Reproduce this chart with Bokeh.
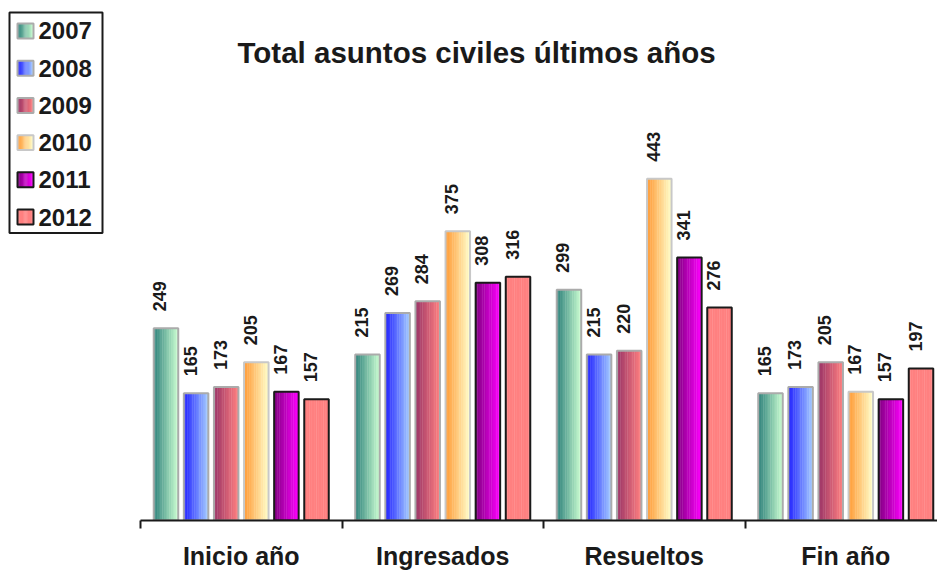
import math
from bokeh.plotting import figure
from bokeh.models import ColumnDataSource, Range1d, FixedTicker, Label
from bokeh.core.properties import value
from bokeh.embed import file_html
from bokeh.resources import INLINE

# ---------------- data ----------------
categories = ["Inicio año", "Ingresados", "Resueltos", "Fin año"]
years = ["2007", "2008", "2009", "2010", "2011", "2012"]
v2007 = [249, 215, 299, 165]
v2008 = [165, 269, 215, 173]
v2009 = [173, 284, 220, 205]
v2010 = [205, 375, 443, 167]
v2011 = [167, 308, 341, 157]
v2012 = [157, 316, 276, 197]
series = [v2007, v2008, v2009, v2010, v2011, v2012]
title_text = "Total asuntos civiles últimos años"

# ---------------- style ----------------
grad_left = ["#2b7f79", "#1f1fff", "#993366", "#ff9933", "#800080", "#ff8080"]
grad_right = ["#ccffd2", "#a6ceff", "#ff8080", "#ffffcc", "#ff00ff", "#ff8080"]
outline = ["#ababab", "#ababab", "#ababab", "#c8c8c8", "#1a1a1a", "#1a1a1a"]
N_STRIPS = 14
BAR_STEP = 0.1494
BAR_W = 0.1216
W, H = 937, 572
BOTTOM = 51          # height of the axis panel
GROUP_PX = 201.5     # width of one category in pixels
AXIS_LEFT = 140      # canvas x where the axis starts
Y_PX = 0.7731        # pixels per unit on the value axis
FRAME_H = H - BOTTOM


def hex2rgb(h):
    h = h.lstrip("#")
    return tuple(int(h[i:i + 2], 16) for i in (0, 2, 4))


def lerp(c1, c2, t):
    a, b = hex2rgb(c1), hex2rgb(c2)
    return "#%02x%02x%02x" % tuple(int(round(a[k] + (b[k] - a[k]) * t)) for k in range(3))


x0 = -0.5 - AXIS_LEFT / GROUP_PX
x1 = -0.5 + (W - AXIS_LEFT) / GROUP_PX
p = figure(width=W, height=H,
           x_range=Range1d(x0, x1), y_range=Range1d(0, FRAME_H / Y_PX),
           y_axis_type=None, output_backend="svg", toolbar_location=None,
           min_border_left=0, min_border_right=0, min_border_top=0, min_border_bottom=BOTTOM)
p.extra_x_ranges = {"px": Range1d(0, W)}
p.extra_y_ranges = {"px": Range1d(FRAME_H, 0)}
p.grid.visible = False
p.outline_line_color = None
p.background_fill_color = "white"
p.border_fill_color = "white"

# ---------------- bars (gradient strips + outline) ----------------
strip = dict(left=[], right=[], top=[], bottom=[], color=[])
bars = dict(left=[], right=[], top=[], line=[])
labels = dict(x=[], y=[], text=[])
for i, vals in enumerate(series):
    off = (i - 2.5) * BAR_STEP
    for g, v in enumerate(vals):
        cx = g + off
        l = cx - BAR_W / 2
        sw = BAR_W / N_STRIPS
        for k in range(N_STRIPS):
            t = (k + 0.5) / N_STRIPS
            strip["left"].append(l + k * sw - sw * 0.1)
            strip["right"].append(l + (k + 1) * sw + sw * 0.1)
            strip["top"].append(v)
            strip["bottom"].append(0)
            strip["color"].append(lerp(grad_left[i], grad_right[i], t))
        bars["left"].append(l)
        bars["right"].append(l + BAR_W)
        bars["top"].append(v)
        bars["line"].append(outline[i])
        labels["x"].append(cx)
        labels["y"].append(v)
        labels["text"].append(str(v))

p.quad(left="left", right="right", top="top", bottom="bottom", fill_color="color",
       line_color=None, source=ColumnDataSource(strip))
p.quad(left="left", right="right", top="top", bottom=0, fill_color=None,
       line_color="line", line_width=2, source=ColumnDataSource(bars))
p.text(x="x", y="y", text="text", angle=math.pi / 2, text_align="left", text_baseline="middle",
       x_offset=-6, y_offset=-17, text_font=value("Liberation Sans"), text_font_style="bold",
       text_font_size="18px", text_color="#1a1a1a", source=ColumnDataSource(labels))

# ---------------- x axis ----------------
xa = p.xaxis[0]
xa.bounds = (-0.5, x1)
xa.ticker = FixedTicker(ticks=list(range(len(categories))),
                        minor_ticks=[g - 0.5 for g in range(len(categories) + 1)])
xa.major_label_overrides = {i: c for i, c in enumerate(categories)}
xa.major_tick_line_color = None
xa.major_tick_in = 0
xa.major_tick_out = 0
xa.minor_tick_in = 0
xa.minor_tick_out = 8
xa.minor_tick_line_color = "#1a1a1a"
xa.minor_tick_line_width = 2
xa.axis_line_color = "#1a1a1a"
xa.axis_line_width = 2
xa.major_label_standoff = 13
xa.major_label_text_font = "Liberation Sans"
xa.major_label_text_font_style = "bold"
xa.major_label_text_font_size = "25px"
xa.major_label_text_color = "#1a1a1a"

# ---------------- title ----------------
p.add_layout(Label(x=237, y=52, x_range_name="px", y_range_name="px", text=title_text,
                   text_align="left", text_baseline="alphabetic", text_font="Liberation Sans",
                   text_font_style="bold", text_font_size="29.5px", text_color="#1a1a1a"))

# ---------------- legend (pixel coordinates on the "px" ranges) ----------------
ROW0, ROW_STEP = 30.5, 37.3
SW_L, SW_R, SW_HALF = 17, 33, 7.5
lstrip = dict(left=[], right=[], top=[], bottom=[], color=[])
lbox = dict(left=[], right=[], top=[], bottom=[], line=[])
ltext = dict(x=[], y=[], text=[])
for i, yr in enumerate(years):
    cy = ROW0 + ROW_STEP * i
    sw = (SW_R - SW_L) / N_STRIPS
    for k in range(N_STRIPS):
        t = (k + 0.5) / N_STRIPS
        lstrip["left"].append(SW_L + k * sw - sw * 0.1)
        lstrip["right"].append(SW_L + (k + 1) * sw + sw * 0.1)
        lstrip["top"].append(cy - SW_HALF)
        lstrip["bottom"].append(cy + SW_HALF)
        lstrip["color"].append(lerp(grad_left[i], grad_right[i], t))
    lbox["left"].append(SW_L)
    lbox["right"].append(SW_R)
    lbox["top"].append(cy - SW_HALF)
    lbox["bottom"].append(cy + SW_HALF)
    lbox["line"].append(outline[i])
    ltext["x"].append(38)
    ltext["y"].append(cy)
    ltext["text"].append(yr)

p.quad(left=9, right=102, top=12, bottom=233, fill_color="white", line_color="#1a1a1a",
       line_width=2, x_range_name="px", y_range_name="px")
p.quad(left="left", right="right", top="top", bottom="bottom", fill_color="color",
       line_color=None, source=ColumnDataSource(lstrip), x_range_name="px", y_range_name="px")
p.quad(left="left", right="right", top="top", bottom="bottom", fill_color=None,
       line_color="line", line_width=2, source=ColumnDataSource(lbox),
       x_range_name="px", y_range_name="px")
p.text(x="x", y="y", text="text", text_align="left", text_baseline="middle",
       text_font=value("Liberation Sans"), text_font_style="bold", text_font_size="24px",
       text_color="#1a1a1a", source=ColumnDataSource(ltext), x_range_name="px", y_range_name="px")

open("out.html", "w").write(file_html(p, INLINE))
